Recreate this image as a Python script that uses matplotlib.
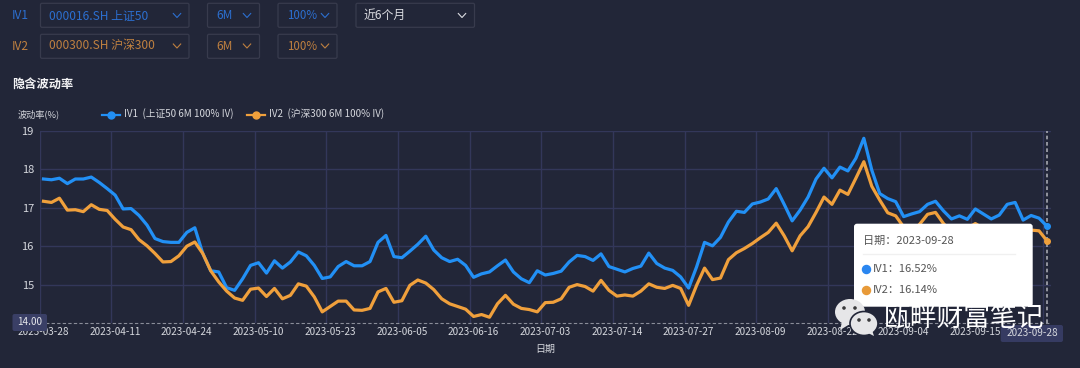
import matplotlib
matplotlib.use("Agg")
import matplotlib.pyplot as plt
from matplotlib.patches import FancyBboxPatch, Ellipse, Polygon
from matplotlib.lines import Line2D

plt.rcParams['font.family'] = ['Noto Sans CJK SC', 'DejaVu Sans']

iv1 = [17.75,17.73,17.77,17.63,17.75,17.75,17.80,17.66,17.50,17.33,
       16.97,16.98,16.80,16.55,16.20,16.12,16.10,16.10,16.36,16.48,
       15.81,15.36,15.33,14.92,14.85,15.15,15.50,15.57,15.30,15.62,
       15.43,15.59,15.85,15.75,15.50,15.16,15.20,15.47,15.60,15.49,
       15.49,15.60,16.10,16.28,15.73,15.70,15.87,16.05,16.26,15.90,
       15.70,15.60,15.66,15.50,15.19,15.28,15.33,15.49,15.64,15.33,
       15.15,15.05,15.36,15.25,15.29,15.35,15.59,15.76,15.73,15.63,
       15.80,15.47,15.40,15.33,15.42,15.48,15.82,15.55,15.43,15.37,
       15.20,14.91,15.46,16.10,16.01,16.23,16.63,16.91,16.88,17.10,
       17.15,17.23,17.50,17.09,16.66,16.94,17.28,17.75,18.03,17.78,
       18.06,17.96,18.29,18.81,17.98,17.37,17.24,17.16,16.77,16.84,
       16.90,17.09,17.17,16.92,16.71,16.79,16.70,16.97,16.84,16.71,
       16.81,17.09,17.14,16.68,16.80,16.73,16.52]
iv2 = [17.17,17.14,17.25,16.94,16.95,16.90,17.08,16.96,16.93,16.70,
       16.50,16.43,16.17,16.01,15.81,15.59,15.60,15.75,16.00,16.11,
       15.81,15.36,15.07,14.83,14.65,14.59,14.88,14.91,14.69,14.90,
       14.63,14.72,15.02,14.96,14.68,14.29,14.43,14.57,14.57,14.34,
       14.33,14.38,14.81,14.90,14.54,14.58,14.98,15.12,15.04,14.87,
       14.63,14.50,14.43,14.36,14.17,14.22,14.15,14.50,14.72,14.49,
       14.38,14.35,14.29,14.53,14.54,14.63,14.93,15.00,14.95,14.83,
       15.11,14.85,14.70,14.73,14.70,14.83,15.02,14.93,14.90,14.98,
       14.90,14.46,14.98,15.43,15.13,15.17,15.65,15.83,15.94,16.07,
       16.22,16.36,16.60,16.27,15.88,16.27,16.51,16.88,17.28,17.09,
       17.46,17.35,17.77,18.20,17.56,17.20,16.87,16.79,16.50,16.37,
       16.57,16.83,16.88,16.59,16.37,16.42,16.46,16.59,16.46,16.37,
       16.42,16.46,16.50,16.37,16.42,16.40,16.14]
tick_labels = ['2023-03-28','2023-04-11','2023-04-24','2023-05-10','2023-05-23',
               '2023-06-05','2023-06-16','2023-07-03','2023-07-14','2023-07-27',
               '2023-08-09','2023-08-22','2023-09-04','2023-09-15','2023-09-28']
y_ticks = [15, 16, 17, 18, 19]
BG = '#222638'
GRID = '#33375a'
BLUE = '#2290f5'
ORANGE = '#f0a03c'
TXT = '#d6d8de'

W, H = 1080, 368
fig = plt.figure(figsize=(W/100, H/100), dpi=100, facecolor=BG)
L, R, T, B = 39.5, 1051.0, 131.0, 323.0
ax = fig.add_axes([L/W, 1-B/H, (R-L)/W, (B-T)/H], facecolor=BG)
xs = list(range(len(iv1)))
ax.set_xlim(-0.5, len(iv1)-0.5)
ax.set_ylim(14, 19)
ax.set_yticks(y_ticks)
ax.set_yticklabels([str(v) for v in y_ticks], fontsize=8, color=TXT)
lab_pos = xs[::9]
ax.set_xticks(lab_pos[:-1])
ax.set_xticklabels(tick_labels[:-1], fontsize=7.2, color=TXT)
ax.set_xticks([p-0.5 for p in lab_pos], minor=True)
ax.tick_params(axis='both', which='both', length=0)
ax.tick_params(axis='x', pad=3)
ax.tick_params(axis='y', pad=4)
ax.grid(True, axis='x', which='minor', color=GRID, lw=1.0)
ax.grid(True, axis='y', which='major', color=GRID, lw=1.0)
ax.set_axisbelow(True)
for s in ax.spines.values():
    s.set_visible(False)
ax.axhline(14, color='#8a8d99', lw=0.8, ls=(0, (3, 2)), zorder=1, clip_on=False)
ax.plot(xs, iv1, color=BLUE, lw=2.3, solid_joinstyle='round', zorder=3, clip_on=False)
ax.plot(xs, iv2, color=ORANGE, lw=2.3, solid_joinstyle='round', zorder=4, clip_on=False)
ax.axvline(xs[-1], color='#a5a7b0', lw=1.2, ls=(0, (2.2, 1.6)), zorder=5)
ax.plot(xs[-1], iv1[-1], 'o', color=BLUE, ms=4, zorder=6, clip_on=False)
ax.plot(xs[-1], iv2[-1], 'o', color=ORANGE, ms=4, zorder=6, clip_on=False)
ax.set_xlabel('日期', fontsize=7.2, color=TXT, labelpad=5)

# overlay in pixel coordinates for the page furniture
ov = fig.add_axes([0, 0, 1, 1], facecolor='none')
ov.set_xlim(0, W); ov.set_ylim(H, 0); ov.axis('off')

def box(x0, y0, x1, y1, fc='none', ec='#383b4d', r=1.5, z=2, lw=0.9):
    ov.add_patch(FancyBboxPatch((x0+r, y0+r), x1-x0-2*r, y1-y0-2*r,
                 boxstyle=f'round,pad={r},rounding_size={r}', fc=fc, ec=ec, lw=lw, zorder=z))

def chevron(cx, cy, color):
    ov.add_line(Line2D([cx-3.7, cx, cx+3.7], [cy-2, cy+2, cy-2], color=color, lw=0.8, zorder=3))

TB = '#2c6fd0'
TO = '#bf8040'
ov.text(12, 15.5, 'IV1', fontsize=8.6, color=TB, va='center')
ov.text(12, 46, 'IV2', fontsize=8.6, color=TO, va='center')
rows = [(15.5, 3.3, 27.3, TB, '000016.SH 上证50'), (46, 34.3, 58.3, TO, '000300.SH 沪深300')]
for cy, y0, y1, col, name in rows:
    box(40.5, y0, 189, y1)
    box(207.5, y0, 259.5, y1)
    box(278, y0, 337, y1)
    ov.text(49, cy, name, fontsize=8.6, color=col, va='center')
    ov.text(216, cy, '6M', fontsize=8.6, color=col, va='center')
    ov.text(287, cy, '100%', fontsize=8.3, color=col, va='center')
    chevron(177, cy, col); chevron(247, cy, col); chevron(325, cy, col)
box(356, 3.3, 474.5, 27.3)
ov.text(364, 15.5, '近6个月', fontsize=8.6, color='#dcdde2', va='center')
chevron(462, 15.5, '#dcdde2')
ov.text(12, 84, '隐含波动率', fontsize=8.8, color='#f2f2f4', va='center', fontweight='bold')

ov.text(18, 114, '波动率(%)', fontsize=6.6, color=TXT, va='center')
ov.add_line(Line2D([102, 120], [114.5, 114.5], color=BLUE, lw=1.6, zorder=3))
ov.plot([111], [114.5], 'o', color=BLUE, ms=5, zorder=3)
ov.text(124, 114, 'IV1  (上证50 6M 100% IV)', fontsize=7.05, color=TXT, va='center')
ov.add_line(Line2D([247, 265], [114.5, 114.5], color=ORANGE, lw=1.6, zorder=3))
ov.plot([256], [114.5], 'o', color=ORANGE, ms=5, zorder=3)
ov.text(269, 114, 'IV2  (沪深300 6M 100% IV)', fontsize=7.05, color=TXT, va='center')

# axis pointer labels
box(12.5, 314, 47, 331, fc='#3a3f66', ec='none', r=2, z=4)
ov.text(29.7, 322.3, '14.00', fontsize=7.2, color='#e4e5ea', ha='center', va='center', zorder=5)
box(1000.7, 325, 1063, 342, fc='#363b62', ec='none', r=2, z=4)
ov.text(1032, 332.7, tick_labels[-1], fontsize=7.2, color='#d6d8de', ha='center', va='center', zorder=5)

# tooltip
box(854, 223.7, 1032.7, 306.7, fc='white', ec='none', r=3, z=6)
ov.text(863, 240.7, f'日期：{tick_labels[-1]}', fontsize=8, color='#555555', va='center', zorder=7)
ov.add_line(Line2D([863, 1015], [254, 254], color='#f0f0f0', lw=1, zorder=7))
ov.plot([866], [268.5], 'o', color='#2a86f0', ms=5.8, zorder=7)
ov.plot([866], [290], 'o', color='#e89a38', ms=5.8, zorder=7)
ov.text(873, 268.5, f'IV1：{iv1[-1]:.2f}%', fontsize=8, color='#555555', va='center', zorder=7)
ov.text(873, 290, f'IV2：{iv2[-1]:.2f}%', fontsize=8, color='#555555', va='center', zorder=7)

# watermark
G = '#e6e6e8'
ov.add_patch(Ellipse((850, 312), 30, 26, fc=G, ec='none', zorder=8))
ov.add_patch(Polygon([[842, 322], [840, 330], [850, 324]], fc=G, ec='none', zorder=8))
ov.add_patch(Ellipse((864, 323.5), 28, 24, fc=G, ec=BG, lw=1.2, zorder=9))
ov.add_patch(Polygon([[868, 333], [874, 336], [872, 330]], fc=G, ec='none', zorder=9))
for px, py, z in [(844, 308, 8.5), (855, 308, 8.5), (859, 320, 9.5), (869, 320, 9.5)]:
    ov.add_patch(Ellipse((px, py), 3.6, 3.6, fc='#3a3a3c', ec='none', zorder=z))
ov.text(884, 319.5, '瓯畔财富笔记', fontsize=19.3, color='white', va='center', zorder=10)

fig.savefig('out.png', dpi=100, facecolor=BG)
